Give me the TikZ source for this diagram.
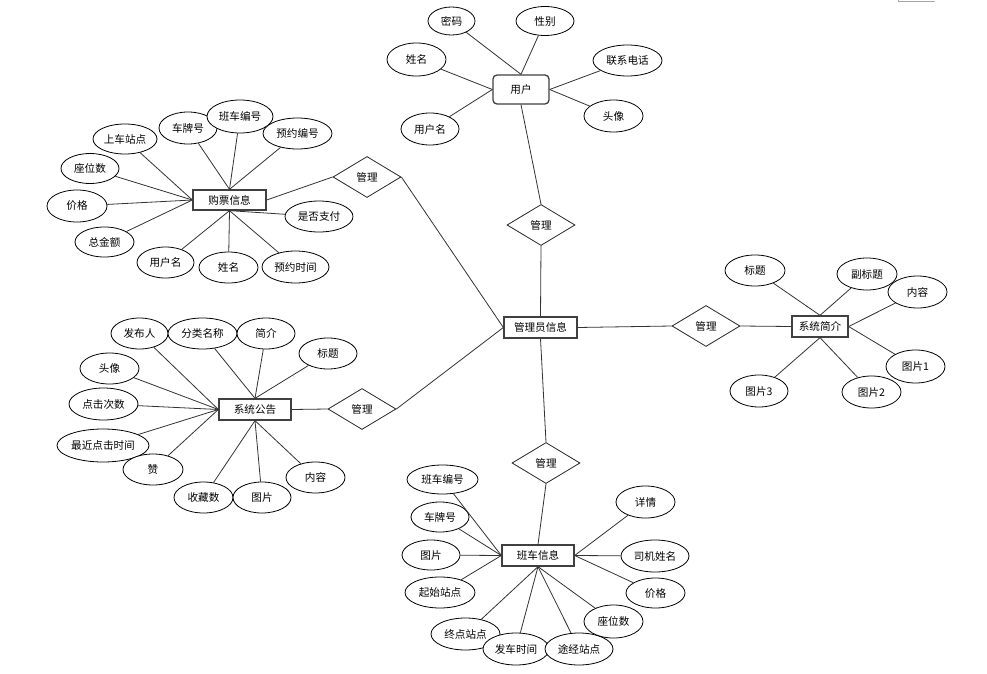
\documentclass[tikz,border=0pt]{standalone}
\usepackage{fontspec}
\setmainfont{Noto Sans CJK SC}
\usetikzlibrary{shapes.geometric}
\tikzset{
  attr/.style 2 args={ellipse, draw=black, fill=white, line width=0.8pt, minimum width=#1pt, minimum height=#2pt, inner sep=0pt},
  ent/.style 2 args={rectangle, draw=black!75, fill=white, line width=1.3pt, minimum width=#1pt, minimum height=#2pt, inner sep=0pt},
  rel/.style={diamond, draw=black!85, fill=white, line width=0.8pt, minimum width=68pt, minimum height=41pt, inner sep=0pt},
  conn/.style={draw=black!80, line width=0.8pt},
  every node/.style={font=\fontsize{10.6}{12}\selectfont}
}
\begin{document}
\begin{tikzpicture}[x=1pt,y=-1pt]
\useasboundingbox (0,0) rectangle (987,674);
\fill[white] (0,0) rectangle (987,674);
\draw[black!35, line width=1pt] (898,0) -- (898,1.2) -- (935,1.2);

% central entity and relations
\node[ent={73}{21}] (a) at (540.5,327.5) {管理员信息};
\node[rel] (d1) at (367,177) {管理};
\node[rel] (d2) at (541,225) {管理};
\node[rel] (d3) at (706,326) {管理};
\node[rel] (d4) at (362,409) {管理};
\node[rel] (d5) at (546,463) {管理};

% user
\node[ent={56}{29}, rounded corners=4pt] (u) at (521,89.5) {用户};
\node[attr={47}{28}] (u1) at (451.5,21) {密码};
\node[attr={58}{29}] (u2) at (545,21) {性别};
\node[attr={59}{33}] (u3) at (416.5,59.5) {姓名};
\node[attr={58}{32}] (u4) at (430,129) {用户名};
\node[attr={69}{31}] (u5) at (627.5,60.5) {联系电话};
\node[attr={59}{32}] (u6) at (613.5,116) {头像};

% purchase
\node[ent={73}{20}] (p) at (229.5,200) {购票信息};
\node[attr={64}{30}] (p1) at (125,139) {上车站点};
\node[attr={58}{32}] (p2) at (188,128) {车牌号};
\node[attr={66}{33}] (p3) at (240,116.5) {班车编号};
\node[attr={69}{31}] (p4) at (297.5,133.5) {预约编号};
\node[attr={58}{30}] (p5) at (90,168.5) {座位数};
\node[attr={60}{32}] (p6) at (77,206) {价格};
\node[attr={59}{30}] (p7) at (104.5,242) {总金额};
\node[attr={57}{31}] (p8) at (165.5,262.5) {用户名};
\node[attr={59}{31}] (p9) at (228.5,267.5) {姓名};
\node[attr={67}{32}] (p10) at (295.5,267) {预约时间};
\node[attr={68}{31}] (p11) at (319,216.5) {是否支付};

% notice
\node[ent={72}{21}] (n) at (255,409.5) {系统公告};
\node[attr={57}{31}] (n1) at (139.5,333.5) {发布人};
\node[attr={69}{31}] (n2) at (202.5,333.5) {分类名称};
\node[attr={58}{31}] (n3) at (266,333.5) {简介};
\node[attr={58}{31}] (n4) at (328,353.5) {标题};
\node[attr={59}{31}] (n5) at (109.5,368.5) {头像};
\node[attr={69}{32}] (n6) at (103.5,404) {点击次数};
\node[attr={92}{33}] (n7) at (103,445.5) {最近点击时间};
\node[attr={60}{31}] (n8) at (153,469.5) {赞};
\node[attr={59}{31}] (n9) at (203.5,497.5) {收藏数};
\node[attr={58}{31}] (n10) at (262,497.5) {图片};
\node[attr={59}{31}] (n11) at (315.5,477.5) {内容};

% intro
\node[ent={56}{21}] (s) at (820,326.5) {系统简介};
\node[attr={60}{31}] (s1) at (755,270.5) {标题};
\node[attr={60}{32}] (s2) at (867,274) {副标题};
\node[attr={59}{32}] (s3) at (917.5,292) {内容};
\node[attr={59}{33}] (s4) at (915.5,366.5) {图片1};
\node[attr={59}{32}] (s5) at (871.5,392) {图片2};
\node[attr={58}{32}] (s6) at (759,391) {图片3};

% bus
\node[ent={72}{21}] (b) at (538,555.5) {班车信息};
\node[attr={71}{29}] (b1) at (442.5,479.5) {班车编号};
\node[attr={58}{30}] (b2) at (440,517) {车牌号};
\node[attr={58}{30}] (b3) at (431,555) {图片};
\node[attr={70}{31}] (b4) at (440,592.5) {起始站点};
\node[attr={69}{32}] (b5) at (465.5,634) {终点站点};
\node[attr={66}{32}] (b6) at (516,649) {发车时间};
\node[attr={68}{32}] (b7) at (579,649) {途经站点};
\node[attr={59}{33}] (b8) at (613.5,621.5) {座位数};
\node[attr={59}{30}] (b9) at (655.5,593) {价格};
\node[attr={68}{32}] (b10) at (655,556) {司机姓名};
\node[attr={59}{32}] (b11) at (645.5,502) {详情};

% connectors: relations
\draw[conn] (u.south) -- (d2.north);
\draw[conn] (d2.south) -- (a.north);
\draw[conn] (a.west) -- (d1.east);
\draw[conn] (a.west) -- (d4.east);
\draw[conn] (a.east) -- (d3.west);
\draw[conn] (a.south) -- (d5.north);
\draw[conn] (p.east) -- (d1.west);
\draw[conn] (n.east) -- (d4.west);
\draw[conn] (d3.east) -- (s.west);
\draw[conn] (d5.south) -- (b.north);

% user attributes
\draw[conn] (u1) -- (u.north);
\draw[conn] (u2) -- (u.north);
\draw[conn] (u3) -- (u.west);
\draw[conn] (u4) -- (u.west);
\draw[conn] (u5) -- (u.east);
\draw[conn] (u6) -- (u.east);

% purchase attributes
\draw[conn] (p1) -- (p.west);
\draw[conn] (p5) -- (p.west);
\draw[conn] (p6) -- (p.west);
\draw[conn] (p7) -- (p.west);
\draw[conn] (p2) -- (p.north);
\draw[conn] (p3) -- (p.north);
\draw[conn] (p4) -- (p.north);
\draw[conn] (p8) -- (p.south);
\draw[conn] (p9) -- (p.south);
\draw[conn] (p10) -- (p.south);
\draw[conn] (p11) -- (p.south);

% notice attributes
\draw[conn] (n1) -- (n.west);
\draw[conn] (n5) -- (n.west);
\draw[conn] (n6) -- (n.west);
\draw[conn] (n7) -- (n.west);
\draw[conn] (n8) -- (n.west);
\draw[conn] (n2) -- (n.north);
\draw[conn] (n3) -- (n.north);
\draw[conn] (n4) -- (n.north);
\draw[conn] (n9) -- (n.south);
\draw[conn] (n10) -- (n.south);
\draw[conn] (n11) -- (n.south);

% intro attributes
\draw[conn] (s1) -- (s.north);
\draw[conn] (s2) -- (s.north);
\draw[conn] (s3) -- (s.east);
\draw[conn] (s4) -- (s.east);
\draw[conn] (s5) -- (s.south);
\draw[conn] (s6) -- (s.south);

% bus attributes
\draw[conn] (b1) -- (b.west);
\draw[conn] (b2) -- (b.west);
\draw[conn] (b3) -- (b.west);
\draw[conn] (b4) -- (b.west);
\draw[conn] (b5) -- (b.south);
\draw[conn] (b6) -- (b.south);
\draw[conn] (b7) -- (b.south);
\draw[conn] (b8) -- (b.south);
\draw[conn] (b9) -- (b.east);
\draw[conn] (b10) -- (b.east);
\draw[conn] (b11) -- (b.east);
\end{tikzpicture}
\end{document}
